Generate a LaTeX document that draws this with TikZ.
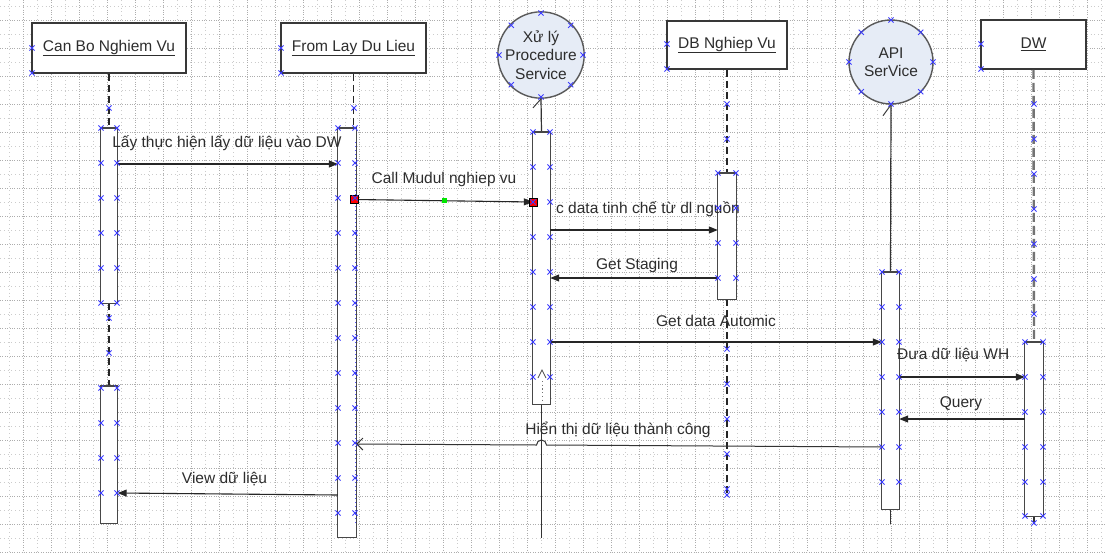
\documentclass[tikz,border=0pt]{standalone}
\usepackage{fontspec}
\setmainfont{Liberation Sans}
\usetikzlibrary{arrows.meta,calc}
\definecolor{circfill}{RGB}{230,236,246}
\definecolor{xblue}{RGB}{60,60,255}
\definecolor{ink}{RGB}{45,45,45}
\definecolor{hgreen}{RGB}{0,230,0}
\begin{document}
\begin{tikzpicture}[x=1pt,y=-1pt,
  every node/.style={font=\fontsize{15.5}{18.5}\selectfont, text=ink},
  hdr/.style={rectangle, draw=black!78, line width=1.6pt, fill=white, inner sep=0},
  circ/.style={circle, draw=black!65, line width=1.4pt, fill=circfill, minimum size=84pt, inner sep=0, align=center},
  act/.style={rectangle, draw=none, fill=none, minimum width=17pt, inner sep=0, anchor=north},
  actbox/.style={draw=black!72, line width=1.3pt, fill=white},
  ll/.style={draw=black!85, line width=1.2pt, dash pattern=on 7pt off 4pt},
  lldw/.style={draw=black!55, line width=2.4pt, dash pattern=on 9pt off 4pt},
  lls/.style={draw=black!80, line width=1.2pt},
  msg/.style={draw=black!85, line width=1.1pt, -{Triangle[length=9pt,width=7pt]}},
  ret/.style={draw=black!80, line width=1pt, -{Straight Barb[length=6pt,width=12pt]}},
  lbl/.style={inner sep=0},
  handle/.style={rectangle, draw=black, line width=0.8pt, fill=red, minimum size=8pt, inner sep=0},
  ghandle/.style={rectangle, fill=hgreen, minimum size=5pt, inner sep=0},
  gmaj/.style={draw=black!32, line width=0.5pt, dash pattern=on 0.8pt off 1.6pt},
  gmin/.style={draw=black!20, line width=0.5pt, dash pattern=on 0.8pt off 3pt},
  xm/.pic={\draw[xblue, line width=0.8pt] (-2.6,-2.6)--(2.6,2.6) (-2.6,2.6)--(2.6,-2.6);},
]
\useasboundingbox (0,0) rectangle (1106,552);
\fill[white] (0,0) rectangle (1106,552);
% grid
\foreach \gx in {9,37,...,1106} \draw[gmin] (\gx,0) -- (\gx,552);
\foreach \gy in {6,34,...,552} \draw[gmin] (0,\gy) -- (1106,\gy);
\foreach \gx in {23,51,...,1106} \draw[gmaj] (\gx,0) -- (\gx,552);
\foreach \gy in {20,48,...,552} \draw[gmaj] (0,\gy) -- (1106,\gy);

% headers
\node[hdr, minimum width=154pt, minimum height=50pt] (hCB) at (109,48) {\underline{Can Bo Nghiem Vu}};
\node[hdr, minimum width=145pt, minimum height=50pt] (hFL) at (353.5,48) {\underline{From Lay Du Lieu}};
\node[circ] (cX) at (541,55) {Xử lý\\Procedure\\Service};
\node[hdr, minimum width=120pt, minimum height=48pt] (hDB) at (727,45) {\underline{DB Nghiep Vu}};
\node[circ] (cA) at (891,62) {API\\SerVice};
\node[hdr, minimum width=105pt, minimum height=49pt] (hDW) at (1033.5,44.5) {\underline{DW}};

% activation boxes (placed first, drawn later)
\path node[act, minimum height=175pt] (aCB1) at (109,128) {}
      node[act, minimum height=137pt] (aCB2) at (109,386) {}
      node[act, minimum width=18pt, minimum height=409pt] (aFL) at (347,128) {}
      node[act, minimum height=272pt] (aX) at (541.5,132) {}
      node[act, minimum width=18pt, minimum height=126pt] (aDB) at (727,173) {}
      node[act, minimum height=237pt] (aA) at (890.5,272) {}
      node[act, minimum width=18pt, minimum height=174pt] (aDW) at (1034,342) {};
\coordinate (xEnd) at (541.5,538);
\coordinate (dbEnd) at (727,496);
\coordinate (aEnd) at (890.5,524);
\coordinate (dwEnd) at (1034,523);

% lifelines
\draw[ll] (hCB.south) -- (aCB1.north);
\draw[ll] (aCB1.south) -- (aCB2.north);
\draw[ll] (hFL.south) -- (hFL.south |- aFL.north);
\draw[lls] (cX.south) -- (aX.north);
\draw[lls] (aX.south) -- (xEnd);
\draw[ll] (hDB.south) -- (aDB.north);
\draw[ll] (aDB.south) -- (dbEnd);
\draw[lls] (cA.south) -- (aA.north);
\draw[lls] (aA.south) -- (aEnd);
\draw[lldw] (hDW.south) -- (aDW.north);
\draw[lls] (aDW.south) -- (dwEnd);
\draw[black!75, line width=1pt] (cX.south) -- ++(-8,9);
\draw[black!75, line width=1pt] (cA.south) -- ++(-8,11);

% activation boxes drawn
\foreach \n in {aCB1,aCB2,aFL,aX,aDB,aA,aDW}
  \draw[actbox] (\n.north west) rectangle (\n.south east);
\draw[xblue!85, line width=0.8pt, dash pattern=on 1pt off 3pt] ($(aFL.north east)+(-1,14)$) -- ($(aFL.south east)+(-1,-14)$);
\draw[black!70, line width=0.8pt] (538,378) -- (542,370) -- (546,378);
\draw[black!55, line width=1pt, dash pattern=on 1.2pt off 2.5pt] (542,381) -- (542,402);

% labels
\node[lbl] (l1) at (227,143) {Lấy thực hiện lấy dữ liệu vào DW};
\node[lbl] (l2) at (444,179) {Call Mudul nghiep vu};
\node[lbl, anchor=west] (l3) at (556,209) {c data tinh chế từ dl nguồn};
\node[lbl] (l4) at (637,265) {Get Staging};
\node[lbl] (l5) at (716,321) {Get data Automic};
\node[lbl, anchor=west] (l6) at (897,355) {Đưa dữ liệu WH};
\node[lbl] (l7) at (961,404) {Query};
\node[lbl] (l8) at (618,430) {Hiển thị dữ liệu thành công};
\node[lbl] (l9) at (224.5,479) {View dữ liệu};

% messages
\draw[msg] ($(aCB1.north east)+(0,36)$) -- ($(aFL.north west)+(0,36)$);
\draw[msg] ($(aFL.north east)+(-1.5,71.5)$) -- ($(aX.north west)+(0,70)$);
\draw[msg] ($(aX.north east)+(0,98)$) -- ($(aDB.north west)+(0,57)$);
\draw[msg] ($(aDB.north west)+(0,105)$) -- ($(aX.north east)+(0,146)$);
\draw[msg] ($(aX.north east)+(0,210)$) -- ($(aA.north west)+(0,70)$);
\draw[msg] ($(aA.north east)+(0,105)$) -- ($(aDW.north west)+(0,35)$);
\draw[msg] ($(aDW.north west)+(0,77)$) -- ($(aA.north east)+(0,147)$);
\draw[ret] ($(aA.north west)+(0,175)$) -- (546.5,445) arc[start angle=0, end angle=-180, radius=5] -- ($(aFL.north east)+(0,316)$);
\draw[msg] ($(aFL.north west)+(0,367)$) -- ($(aCB2.north east)+(0,107)$);

% selection handles of the call message
\node[handle] (rs1) at (354.5,199.5) {};
\node[handle] (rs2) at (533.5,202) {};
\node[ghandle] (gs) at (444,200.5) {};

% connection point markers
\foreach \p in {(32,48),(32,73),(281,48),(281,73),(667,44),(667,69),(981,44),(981,69),
  (109,108),(354,108),(109,318),(109,353),(727,104),(727,139),(727,495),(1034,523)}
  \pic at \p {xm};
\foreach \a in {0,45,...,315} {
  \pic at ($(cX)+(\a:42)$) {xm};
  \pic at ($(cA)+(\a:42)$) {xm};
}
\foreach \yy in {349,384,...,489} \pic at (727,\yy) {xm};
\foreach \yy in {104,139,...,314} \pic at (1034,\yy) {xm};
\foreach \xx in {101,117} {
  \foreach \yy in {128,163,...,303} \pic at (\xx,\yy) {xm};
  \foreach \yy in {388,423,...,493} \pic at (\xx,\yy) {xm};
}
\foreach \xx in {338,355} \foreach \yy in {128,163,...,513} \pic at (\xx,\yy) {xm};
\foreach \xx in {533,550} \foreach \yy in {132,167,...,377} \pic at (\xx,\yy) {xm};
\foreach \xx in {718,736} \foreach \yy in {173,208,...,278} \pic at (\xx,\yy) {xm};
\foreach \xx in {882,899} \foreach \yy in {272,307,...,482} \pic at (\xx,\yy) {xm};
\foreach \xx in {1025,1043} {
  \foreach \yy in {342,377,...,482} \pic at (\xx,\yy) {xm};
  \pic at (\xx,516) {xm};
}
\end{tikzpicture}
\end{document}
